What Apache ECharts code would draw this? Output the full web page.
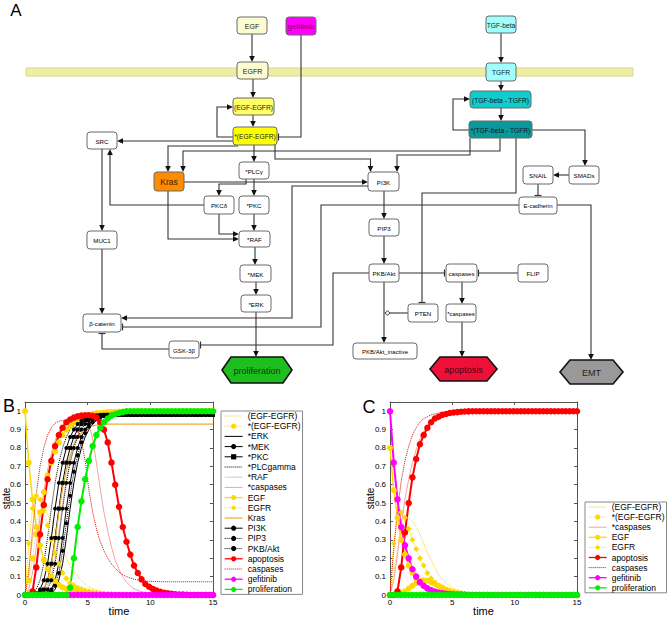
<!DOCTYPE html>
<html><head><meta charset="utf-8">
<script src="https://cdn.jsdelivr.net/npm/echarts@6/dist/echarts.min.js"></script>
<style>html,body{margin:0;padding:0;background:#fff}#c{width:669px;height:619px}</style>
</head><body><div id="c"></div>
<script>
// ---------------- DATA ----------------
const TIME = [
 0,0.3,0.6,0.9,1.2,1.5,1.8,2.1,2.4,2.7,
 3,3.3,3.6,3.9,4.2,4.5,4.8,5.1,5.4,5.7,
 6,6.3,6.6,6.9,7.2,7.5,7.8,8.1,8.4,8.7,
 9,9.3,9.6,9.9,10.2,10.5,10.8,11.1,11.4,11.7,
 12,12.3,12.6,12.9,13.2,13.5,13.8,14.1,14.4,14.7,
 15];

// Panel B
const B_EGF_EGFR = [
 0,0.15,0.3,0.4,0.45,0.46,0.44,0.4,0.35,0.3,
 0.25,0.2,0.16,0.13,0.1,0.08,0.06,0.045,0.035,0.025,
 0.02,0.015,0.01,0.008,0.006,0.004,0.003,0.002,0.001,0,
 0,0,0,0,0,0,0,0,0,0,
 0,0,0,0,0,0,0,0,0,0,
 0];
const B_pEGF_EGFR = [
 0,0.08,0.2,0.33,0.45,0.56,0.65,0.72,0.78,0.83,
 0.87,0.9,0.92,0.94,0.955,0.965,0.975,0.98,0.985,0.99,
 0.99,0.993,0.995,0.996,0.997,0.998,0.998,0.999,0.999,0.999,
 1,1,1,1,1,1,1,1,1,1,
 1,1,1,1,1,1,1,1,1,1,
 1];
const B_pERK = [
 0,0,0,0,0,0,0,0.01,0.03,0.08,
 0.17,0.31,0.47,0.61,0.72,0.8,0.86,0.9,0.93,0.95,
 0.962,0.97,0.975,0.978,0.98,0.98,0.98,0.98,0.98,0.98,
 0.98,0.98,0.98,0.98,0.98,0.98,0.98,0.98,0.98,0.98,
 0.98,0.98,0.98,0.98,0.98,0.98,0.98,0.98,0.98,0.98,
 0.98];
const B_pMEK = [
 0,0,0,0,0,0,0.01,0.03,0.08,0.17,
 0.31,0.47,0.61,0.72,0.8,0.86,0.9,0.93,0.95,0.962,
 0.97,0.975,0.978,0.98,0.98,0.98,0.98,0.98,0.98,0.98,
 0.98,0.98,0.98,0.98,0.98,0.98,0.98,0.98,0.98,0.98,
 0.98,0.98,0.98,0.98,0.98,0.98,0.98,0.98,0.98,0.98,
 0.98];
const B_pPKC = [
 0,0,0,0,0.01,0.03,0.08,0.17,0.31,0.47,
 0.61,0.72,0.8,0.86,0.9,0.93,0.95,0.962,0.97,0.975,
 0.978,0.98,0.98,0.98,0.98,0.98,0.98,0.98,0.98,0.98,
 0.98,0.98,0.98,0.98,0.98,0.98,0.98,0.98,0.98,0.98,
 0.98,0.98,0.98,0.98,0.98,0.98,0.98,0.98,0.98,0.98,
 0.98];
const B_pPLC = [
 0,0,0.01,0.03,0.08,0.17,0.31,0.47,0.61,0.72,
 0.8,0.86,0.9,0.93,0.95,0.962,0.97,0.975,0.978,0.98,
 0.98,0.98,0.98,0.98,0.98,0.98,0.98,0.98,0.98,0.98,
 0.98,0.98,0.98,0.98,0.98,0.98,0.98,0.98,0.98,0.98,
 0.98,0.98,0.98,0.98,0.98,0.98,0.98,0.98,0.98,0.98,
 0.98];
const B_pRAF = [
 0,0,0,0,0,0.02,0.05,0.11,0.2,0.34,
 0.5,0.63,0.74,0.82,0.87,0.91,0.94,0.96,0.97,0.98,
 0.985,0.99,0.99,0.99,0.99,0.99,0.99,0.99,0.99,0.99,
 0.99,0.99,0.99,0.99,0.99,0.99,0.99,0.99,0.99,0.99,
 0.99,0.99,0.99,0.99,0.99,0.99,0.99,0.99,0.99,0.99,
 0.99];
const B_pCASP = [
 0,0.03,0.12,0.26,0.42,0.56,0.68,0.77,0.84,0.89,
 0.92,0.945,0.96,0.97,0.975,0.975,0.97,0.93,0.85,0.72,
 0.58,0.45,0.35,0.26,0.19,0.14,0.1,0.07,0.05,0.035,
 0.025,0.018,0.013,0.009,0.006,0.004,0.003,0.002,0.001,0,
 0,0,0,0,0,0,0,0,0,0,
 0];
const B_EGF = [
 1,0.72,0.52,0.37,0.27,0.19,0.14,0.1,0.075,0.055,
 0.042,0.033,0.027,0.022,0.018,0.015,0.012,0.01,0.008,0.006,
 0.005,0.004,0.003,0.002,0.001,0,0,0,0,0,
 0,0,0,0,0,0,0,0,0,0,
 0,0,0,0,0,0,0,0,0,0,
 0];
const B_EGFR = [
 0,0.28,0.47,0.54,0.52,0.46,0.38,0.3,0.23,0.17,
 0.12,0.09,0.065,0.05,0.04,0.032,0.026,0.021,0.017,0.013,
 0.01,0.008,0.006,0.004,0.003,0.002,0.001,0,0,0,
 0,0,0,0,0,0,0,0,0,0,
 0,0,0,0,0,0,0,0,0,0,
 0];
const B_KRAS = [
 0,0,0,0,0.01,0.03,0.08,0.16,0.29,0.45,
 0.58,0.68,0.76,0.82,0.86,0.88,0.9,0.91,0.92,0.925,
 0.93,0.93,0.93,0.93,0.93,0.93,0.93,0.93,0.93,0.93,
 0.93,0.93,0.93,0.93,0.93,0.93,0.93,0.93,0.93,0.93,
 0.93,0.93,0.93,0.93,0.93,0.93,0.93,0.93,0.93,0.93,
 0.93];
const B_PI3K = [
 0,0,0,0.01,0.03,0.08,0.17,0.31,0.47,0.61,
 0.72,0.8,0.86,0.9,0.93,0.95,0.962,0.97,0.975,0.978,
 0.98,0.98,0.98,0.98,0.98,0.98,0.98,0.98,0.98,0.98,
 0.98,0.98,0.98,0.98,0.98,0.98,0.98,0.98,0.98,0.98,
 0.98,0.98,0.98,0.98,0.98,0.98,0.98,0.98,0.98,0.98,
 0.98];
const B_PIP3 = [
 0,0,0,0,0,0.01,0.03,0.08,0.17,0.31,
 0.47,0.61,0.72,0.8,0.86,0.9,0.93,0.95,0.962,0.97,
 0.975,0.978,0.98,0.98,0.98,0.98,0.98,0.98,0.98,0.98,
 0.98,0.98,0.98,0.98,0.98,0.98,0.98,0.98,0.98,0.98,
 0.98,0.98,0.98,0.98,0.98,0.98,0.98,0.98,0.98,0.98,
 0.98];
const B_PKB = [
 0,0,0,0,0,0,0.005,0.02,0.05,0.12,
 0.24,0.39,0.54,0.67,0.76,0.83,0.88,0.915,0.94,0.956,
 0.966,0.972,0.976,0.979,0.98,0.98,0.98,0.98,0.98,0.98,
 0.98,0.98,0.98,0.98,0.98,0.98,0.98,0.98,0.98,0.98,
 0.98,0.98,0.98,0.98,0.98,0.98,0.98,0.98,0.98,0.98,
 0.98];
const B_APOP = [
 0,0,0.02,0.15,0.33,0.49,0.63,0.73,0.81,0.87,
 0.91,0.94,0.955,0.965,0.972,0.976,0.978,0.978,0.975,0.965,
 0.94,0.9,0.83,0.72,0.6,0.48,0.37,0.29,0.22,0.16,
 0.12,0.085,0.06,0.045,0.033,0.024,0.017,0.012,0.009,0.006,
 0.004,0.003,0.002,0.001,0,0,0,0,0,0,
 0];
const B_CASP = [
 0,0.12,0.35,0.55,0.7,0.8,0.87,0.91,0.935,0.945,
 0.95,0.945,0.935,0.915,0.89,0.84,0.73,0.57,0.45,0.36,
 0.29,0.24,0.2,0.17,0.145,0.125,0.11,0.1,0.092,0.086,
 0.082,0.079,0.077,0.075,0.074,0.073,0.072,0.072,0.072,0.072,
 0.072,0.072,0.072,0.072,0.072,0.072,0.072,0.072,0.072,0.072,
 0.072];
const B_GEF = [
 0,0,0,0,0,0,0,0,0,0,
 0,0,0,0,0,0,0,0,0,0,
 0,0,0,0,0,0,0,0,0,0,
 0,0,0,0,0,0,0,0,0,0,
 0,0,0,0,0,0,0,0,0,0,
 0];
const B_PROL = [
 0,0,0,0,0,0,0,0,0,0,
 0,0,0.04,0.2,0.37,0.51,0.63,0.73,0.81,0.87,
 0.91,0.94,0.96,0.975,0.985,0.99,0.995,1,1,1,
 1,1,1,1,1,1,1,1,1,1,
 1,1,1,1,1,1,1,1,1,1,
 1];

// Panel C
const C_EGF_EGFR = [
 0,0.12,0.25,0.35,0.41,0.42,0.4,0.37,0.33,0.28,
 0.23,0.19,0.15,0.11,0.085,0.065,0.05,0.037,0.028,0.02,
 0.015,0.011,0.008,0.006,0.004,0.003,0.002,0.001,0,0,
 0,0,0,0,0,0,0,0,0,0,
 0,0,0,0,0,0,0,0,0,0,
 0];
const C_pEGF_EGFR = [
 0,0,0.003,0.01,0.02,0.035,0.05,0.065,0.075,0.08,
 0.078,0.07,0.06,0.05,0.04,0.03,0.022,0.016,0.011,0.008,
 0.005,0.003,0.002,0.001,0,0,0,0,0,0,
 0,0,0,0,0,0,0,0,0,0,
 0,0,0,0,0,0,0,0,0,0,
 0];
const C_pCASP = [
 0,0.08,0.22,0.38,0.52,0.63,0.72,0.79,0.85,0.89,
 0.92,0.94,0.96,0.97,0.98,0.985,0.99,0.993,0.995,0.997,
 0.998,0.999,1,1,1,1,1,1,1,1,
 1,1,1,1,1,1,1,1,1,1,
 1,1,1,1,1,1,1,1,1,1,
 1];
const C_EGF = [
 0.8,0.57,0.42,0.3,0.22,0.16,0.12,0.09,0.065,0.048,
 0.035,0.026,0.019,0.014,0.01,0.007,0.005,0.004,0.003,0.002,
 0.001,0,0,0,0,0,0,0,0,0,
 0,0,0,0,0,0,0,0,0,0,
 0,0,0,0,0,0,0,0,0,0,
 0];
const C_EGFR = [
 0,0.28,0.42,0.45,0.42,0.36,0.3,0.25,0.2,0.16,
 0.12,0.09,0.07,0.05,0.04,0.03,0.022,0.016,0.011,0.008,
 0.005,0.003,0.002,0.001,0,0,0,0,0,0,
 0,0,0,0,0,0,0,0,0,0,
 0,0,0,0,0,0,0,0,0,0,
 0];
const C_APOP = [
 0,0,0.02,0.15,0.34,0.5,0.64,0.74,0.82,0.87,
 0.91,0.94,0.96,0.97,0.98,0.985,0.99,0.993,0.995,0.997,
 0.998,0.999,1,1,1,1,1,1,1,1,
 1,1,1,1,1,1,1,1,1,1,
 1,1,1,1,1,1,1,1,1,1,
 1];
const C_CASP = [
 0,0.25,0.46,0.62,0.73,0.81,0.87,0.91,0.94,0.96,
 0.97,0.98,0.985,0.99,0.993,0.995,0.997,0.998,0.999,1,
 1,1,1,1,1,1,1,1,1,1,
 1,1,1,1,1,1,1,1,1,1,
 1,1,1,1,1,1,1,1,1,1,
 1];
const C_GEF = [
 1,0.72,0.52,0.37,0.27,0.2,0.14,0.1,0.07,0.05,
 0.036,0.026,0.019,0.013,0.01,0.007,0.005,0.004,0.003,0.002,
 0.001,0,0,0,0,0,0,0,0,0,
 0,0,0,0,0,0,0,0,0,0,
 0,0,0,0,0,0,0,0,0,0,
 0];
const C_PROL = [
 0,0,0,0,0,0,0,0,0,0,
 0,0,0,0,0,0,0,0,0,0,
 0,0,0,0,0,0,0,0,0,0,
 0,0,0,0,0,0,0,0,0,0,
 0,0,0,0,0,0,0,0,0,0,
 0];

const B_NAMES = ['(EGF-EGFR)','*(EGF-EGFR)','*ERK','*MEK','*PKC','*PLCgamma','*RAF','*caspases','EGF','EGFR','Kras','PI3K','PIP3','PKB/Akt','apoptosis','caspases','gefitinib','proliferation'];
const B_VALUES = [B_EGF_EGFR,B_pEGF_EGFR,B_pERK,B_pMEK,B_pPKC,B_pPLC,B_pRAF,B_pCASP,B_EGF,B_EGFR,B_KRAS,B_PI3K,B_PIP3,B_PKB,B_APOP,B_CASP,B_GEF,B_PROL];
const C_NAMES = ['(EGF-EGFR)','*(EGF-EGFR)','*caspases','EGF','EGFR','apoptosis','caspases','gefitinib','proliferation'];
const C_VALUES = [C_EGF_EGFR,C_pEGF_EGFR,C_pCASP,C_EGF,C_EGFR,C_APOP,C_CASP,C_GEF,C_PROL];

// ---------------- STYLES ----------------
const FONT = '"Liberation Sans", Arial, Helvetica, sans-serif';
const STYLE = {
 '(EGF-EGFR)': {color:'#F2D400', type:'dotted', w:1},
 '*(EGF-EGFR)': {color:'#FFD800', type:'dotted', w:1, sym:'circle', size:6},
 '*ERK': {color:'#000', w:1},
 '*MEK': {color:'#000', w:1, sym:'circle', size:4},
 '*PKC': {color:'#000', w:1, sym:'rect', size:4},
 '*PLCgamma': {color:'#000', type:'dotted', w:1},
 '*RAF': {color:'#D2C8C8', w:1},
 '*caspases': {color:'#F4A2A2', w:1},
 'EGF': {color:'#FFD800', w:1.5, sym:'circle', size:6},
 'EGFR': {color:'#FFD800', type:'dotted', w:1, sym:'diamond', size:6},
 'Kras': {color:'#EEAA30', w:1.2},
 'PI3K': {color:'#000', w:1, sym:'circle', size:4},
 'PIP3': {color:'#000', type:'dotted', w:1, sym:'circle', size:4},
 'PKB/Akt': {color:'#000', type:'dotted', w:1, sym:'circle', size:4},
 'apoptosis': {color:'#FF0000', w:2, sym:'circle', size:6.5},
 'caspases': {color:'#DD0000', type:'dotted', w:1},
 'gefitinib': {color:'#FF00FF', w:2, sym:'circle', size:6.5},
 'proliferation': {color:'#00EE00', w:2, sym:'circle', size:6.5}
};

function mkSeries(names, values, axisIdx) {
  return names.map((n, i) => {
    const s = STYLE[n];
    return {
      name: n, type: 'line', xAxisIndex: axisIdx, yAxisIndex: axisIdx,
      data: TIME.map((t, k) => [t, values[i][k]]),
      symbol: s.sym || 'circle', symbolSize: s.sym ? s.size : 0, showSymbol: !!s.sym,
      lineStyle: {color: s.color, width: s.w, type: s.type || 'solid'},
      itemStyle: {color: s.color, borderWidth: 0},
      emphasis: {disabled: true}, silent: true, animation: false
    };
  });
}
function legendData(names) {
  return names.map(n => {
    const s = STYLE[n];
    const item = {name: n, lineStyle: {width: Math.min(s.w, 1.3)}};
    if (!s.sym) item.itemStyle = {opacity: 0};
    return item;
  });
}

function xAxes(g) {
  const base = {type:'value', gridIndex:g, min:0, max:15, interval:5,
    axisLine:{show:true, onZero:false, lineStyle:{color:'#555', width:1}},
    axisTick:{show:true, inside:true, length:3, lineStyle:{color:'#555'}},
    splitLine:{show:false}};
  return [
    Object.assign({}, base, {position:'bottom',
      axisLabel:{show:true, fontSize:8, color:'#000', margin:3, fontFamily:FONT},
      name:'time', nameLocation:'middle', nameGap:10, nameMoveOverlap:false,
      nameTextStyle:{fontSize:11, color:'#000', fontFamily:FONT}}),
    Object.assign({}, base, {position:'top', axisLabel:{show:false}})
  ];
}
function yAxes(g, gap) {
  const base = {type:'value', gridIndex:g, min:0, max:1.05, interval:0.1,
    axisLine:{show:true, onZero:false, lineStyle:{color:'#555', width:1}},
    axisTick:{show:true, inside:true, length:3, lineStyle:{color:'#555'}},
    splitLine:{show:false}};
  return [
    Object.assign({}, base, {position:'left',
      axisLabel:{show:true, fontSize:8, color:'#000', margin:4, fontFamily:FONT, showMaxLabel:false},
      name:'state', nameLocation:'middle', nameGap:gap, nameMoveOverlap:false,
      nameTextStyle:{fontSize:10, color:'#000', fontFamily:FONT}}),
    Object.assign({}, base, {position:'right', axisLabel:{show:false}})
  ];
}

// ---------------- DIAGRAM (panel A) ----------------
// [label, x1, y1, x2, y2, fill, fontSize, textColor]
const DIAGRAM_NODES = [
 ['EGF',237,17,267,34,'#FDFBD0',7,'#222'],
 ['gefitinib',286,17,316,35,'#FF00FF',7.8,'#7A007A'],
 ['EGFR',237,62,268,79,'#FDFBD0',7,'#222'],
 ['(EGF-EGFR)',233,98,274,115,'#FFFF66',6.7,'#222'],
 ['*(EGF-EGFR)',233,127,277,145,'#FFFF00',6.7,'#222'],
 ['TGF-beta',486,16,516,33,'#9FFFFF',6.7,'#222'],
 ['TGFR',486,63,516,81,'#9FFFFF',6.7,'#222'],
 ['(TGF-beta - TGFR)',470,91,531,108,'#10CCCC',6.7,'#112'],
 ['*(TGF-beta - TGFR)',469,121,532,138,'#0A9898',6.7,'#112'],
 ['SRC',87,132,117,149,'#FFFFFF',6.2,'#000'],
 ['Kras',154,172,184,191,'#FF8C00',8.5,'#3A2000'],
 ['*PLCγ',239,162,269,179,'#FFFFFF',6.2,'#000'],
 ['PI3K',368,172,399,191,'#FFFFFF',6.2,'#000'],
 ['SNAIL',523,166,553,184,'#FFFFFF',6.2,'#000'],
 ['SMADs',569,166,599,184,'#FFFFFF',6.2,'#000'],
 ['PKCδ',204,196,234,214,'#FFFFFF',6.2,'#000'],
 ['*PKC',239,196,269,214,'#FFFFFF',6.2,'#000'],
 ['E-cadherin',519,197,557,214,'#FFFFFF',6,'#000'],
 ['MUC1',87,231,117,249,'#FFFFFF',6.2,'#000'],
 ['*RAF',239,231,270,247,'#FFFFFF',6.2,'#000'],
 ['PIP3',369,219,399,236,'#FFFFFF',6.2,'#000'],
 ['*MEK',240,265,271,282,'#FFFFFF',6.2,'#000'],
 ['PKB/Akt',369,264,399,282,'#FFFFFF',6.2,'#000'],
 ['caspases',446,264,477,282,'#FFFFFF',6.2,'#000'],
 ['FLIP',518,264,548,282,'#FFFFFF',6.2,'#000'],
 ['*ERK',241,295,271,312,'#FFFFFF',6.2,'#000'],
 ['PTEN',408,304,438,322,'#FFFFFF',6.2,'#000'],
 ['*caspases',446,304,476,322,'#FFFFFF',6,'#000'],
 ['β-catenin',83,314,121,332,'#FFFFFF',6.2,'#000'],
 ['GSK-3β',169,341,199,358,'#FFFFFF',6.2,'#000'],
 ['PKB/Akt_inactive',353,343,417,359,'#FFFFFF',6,'#000']
];
// [label, x1, y1, x2, y2, inset, fill, textColor]
const DIAGRAM_OUTCOMES = [
 ['proliferation',222,357,292,383,9,'#1FBE1F','#0B3A0B'],
 ['apoptosis',430,357,497,381,10,'#EE1038','#4A0010'],
 ['EMT',560,360,623,384,10,'#999999','#222']
];
// [route points, end kind]
const DIAGRAM_EDGES = [
 [[[252,34],[252,62]],'arrow'],
 [[[253,79],[253,98]],'arrow'],
 [[[253,115],[253,127]],'arrow'],
 [[[233,137],[217,137],[217,107],[233,107]],'arrow'],
 [[[301,35],[301,137],[277,137]],'bar'],
 [[[233,141],[117,141]],'arrow'],
 [[[238,146],[168,146],[168,172]],'arrow'],
 [[[500,138],[500,151],[183,151],[183,172]],'arrow'],
 [[[254,145],[254,162]],'arrow'],
 [[[275,145],[275,159],[370.5,159],[370.5,172]],'arrow'],
 [[[470,138],[470,155],[397,155],[397,172]],'arrow'],
 [[[184,182],[368,182]],'arrow'],
 [[[246,179],[246,184],[219,184],[219,196]],'arrow'],
 [[[254,179],[254,196]],'arrow'],
 [[[368,186],[292,186],[292,318],[121,318]],'arrow'],
 [[[204,205],[110,205],[110,149]],'arrow'],
 [[[102,149],[102,231]],'arrow'],
 [[[102,249],[102,314]],'arrow'],
 [[[168,191],[168,239],[239,239]],'arrow'],
 [[[219,214],[219,234],[239,234]],'arrow'],
 [[[254,214],[254,231]],'arrow'],
 [[[255,247],[255,265]],'arrow'],
 [[[256,282],[256,295]],'arrow'],
 [[[256,312],[256,357]],'arrow'],
 [[[519,205],[321,205],[321,327],[121,327]],'bar'],
 [[[369,273],[333,273],[333,345],[199,345]],'bar'],
 [[[169,349],[102,349],[102,332]],'bar'],
 [[[532,130],[585,130],[585,166]],'arrow'],
 [[[469,130],[453,130],[453,99],[470,99]],'arrow'],
 [[[501,33],[501,63]],'arrow'],
 [[[501,81],[501,91]],'arrow'],
 [[[501,108],[501,121]],'arrow'],
 [[[569,175],[553,175]],'arrow'],
 [[[538,184],[538,197]],'bar'],
 [[[516,138],[516,193],[422,193],[422,304]],'bar'],
 [[[557,205],[591,205],[591,360]],'arrow'],
 [[[384,191],[384,219]],'arrow'],
 [[[384,236],[384,264]],'arrow'],
 [[[399,273],[446,273]],'bar'],
 [[[518,273],[477,273]],'bar'],
 [[[462,282],[462,304]],'arrow'],
 [[[462,322],[462,357]],'arrow'],
 [[[408,313],[387.5,313]],'circle'],
 [[[384,282],[384,343]],'arrow']
];

function textEl(str, x, y, size, color, extra) {
  return Object.assign({type:'text', x:x, y:y, z:10,
    style:{text:str, fill:color, fontSize:size, fontFamily:FONT,
      align:'center', verticalAlign:'middle', textAlign:'center', textVerticalAlign:'middle'}}, extra || {});
}
function edgeEls(pts, kind) {
  const els = [];
  const n = pts.length;
  const [x2, y2] = pts[n-1], [x1, y1] = pts[n-2];
  const L = Math.hypot(x2-x1, y2-y1), ux = (x2-x1)/L, uy = (y2-y1)/L;
  const line = pts.map(p => p.slice());
  const stroke = '#333';
  if (kind === 'arrow') {
    const al = 6, aw = 2.8;
    line[n-1] = [x2 - ux*al*0.7, y2 - uy*al*0.7];
    els.push({type:'polygon', z:3, shape:{points:[[x2,y2],[x2-ux*al-uy*aw, y2-uy*al+ux*aw],[x2-ux*al+uy*aw, y2-uy*al-ux*aw]]}, style:{fill:'#111'}});
  } else if (kind === 'bar') {
    const bx = x2 - ux*1.5, by = y2 - uy*1.5;
    line[n-1] = [bx, by];
    els.push({type:'line', z:3, shape:{x1:bx-uy*3.5, y1:by+ux*3.5, x2:bx+uy*3.5, y2:by-ux*3.5}, style:{stroke:stroke, lineWidth:1.2}});
  } else if (kind === 'circle') {
    line[n-1] = [x2 - ux*2, y2 - uy*2];
    els.push({type:'circle', z:3, shape:{cx:x2, cy:y2, r:2}, style:{fill:'#fff', stroke:stroke, lineWidth:1}});
  }
  els.unshift({type:'polyline', z:2, shape:{points:line}, style:{stroke:stroke, lineWidth:1.1, fill:null}});
  return els;
}

const G = [];
G.push({type:'rect', z:1, shape:{x:26, y:68, width:607, height:8}, style:{fill:'#EFEFA4', stroke:'#D6D68A', lineWidth:1}});
DIAGRAM_EDGES.forEach(([pts, kind]) => G.push(...edgeEls(pts, kind)));
DIAGRAM_NODES.forEach(([lab, x1, y1, x2, y2, fill, fs, tc]) => {
  G.push({type:'rect', z:5, shape:{x:x1, y:y1, width:x2-x1, height:y2-y1, r:3}, style:{fill:fill, stroke:'#6a6a6a', lineWidth:1}});
  G.push(textEl(lab, (x1+x2)/2, (y1+y2)/2 + 0.5, fs, tc));
});
DIAGRAM_OUTCOMES.forEach(([lab, x1, y1, x2, y2, d, fill, tc]) => {
  const ym = (y1+y2)/2;
  G.push({type:'polygon', z:5, shape:{points:[[x1,ym],[x1+d,y1],[x2-d,y1],[x2,ym],[x2-d,y2],[x1+d,y2]]}, style:{fill:fill, stroke:'#111', lineWidth:1.6}});
  G.push(textEl(lab, (x1+x2)/2, ym + 0.5, 9, tc));
});
G.push(textEl('A', 16, 10, 17, '#000'));
G.push(textEl('B', 9, 406, 18, '#000'));
G.push(textEl('C', 369, 407, 18, '#000'));

// ---------------- CHART ----------------
const chart = echarts.init(document.getElementById('c'), null, {renderer:'svg', width:669, height:619});
const legendBase = {orient:'vertical', itemWidth:18, itemHeight:6.5,
  textStyle:{fontSize:8.5, lineHeight:10, color:'#000', fontFamily:FONT},
  borderColor:'#888', borderWidth:1, backgroundColor:'#fff', selectedMode:false, borderRadius:0};
chart.setOption({
  animation:false,
  backgroundColor:'#fff',
  grid:[
    {left:25, top:402, width:188, height:193, outerBoundsMode:'none', containLabel:false},
    {left:390, top:402, width:187, height:193, outerBoundsMode:'none', containLabel:false}
  ],
  xAxis:[...xAxes(0), ...xAxes(1)],
  yAxis:[...yAxes(0, 14), ...yAxes(1, 15)],
  legend:[
    Object.assign({}, legendBase, {data:legendData(B_NAMES), left:221, top:411, padding:[0,2,0,3], itemGap:0.2}),
    Object.assign({}, legendBase, {data:legendData(C_NAMES), left:585, top:502, padding:[0,2,0,3], itemGap:0.1})
  ],
  series:[...mkSeries(B_NAMES, B_VALUES, 0), ...mkSeries(C_NAMES, C_VALUES, 2)],
  graphic:{elements:G}
});
</script>
</body></html>
